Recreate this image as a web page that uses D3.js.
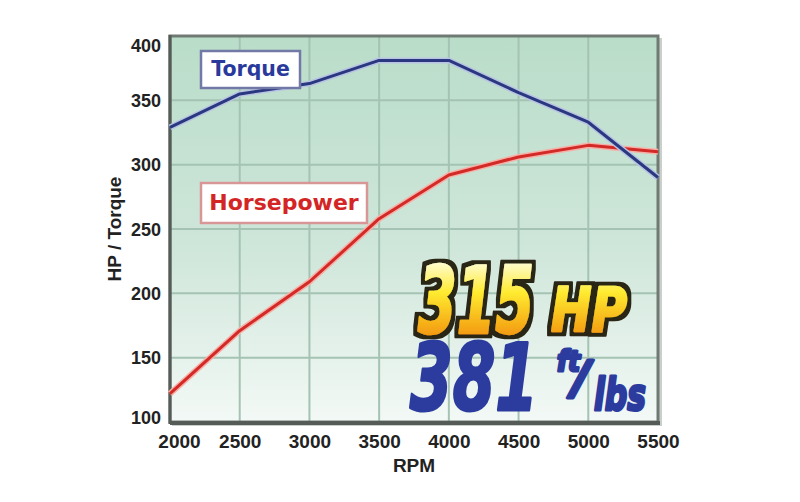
<!DOCTYPE html>
<html>
<head>
<meta charset="utf-8">
<script src="https://cdn.jsdelivr.net/npm/d3@7"></script>
<style>
  html, body { margin: 0; padding: 0; background: #fff; }
  #viz { width: 800px; height: 502px; }
</style>
</head>
<body>
<div id="viz"></div>
<script>
const rpm = [2000, 2500, 3000, 3500, 4000, 4500, 5000, 5500];
const torque = [329, 355, 363, 381, 381, 356, 333, 290];
const horsepower = [122, 171, 209, 258, 292, 306, 315, 310];
const xTicks = [2000, 2500, 3000, 3500, 4000, 4500, 5000, 5500];
const yTicks = [100, 150, 200, 250, 300, 350, 400];
const peakHp = "315";
const peakTorque = "381";

document.addEventListener("DOMContentLoaded", () => {
    const width = 800;
    const height = 502;
    const left = 170, right = 658, top = 36, bottom = 422;
    const labelFont = "'Liberation Sans', Arial, sans-serif";
    const bigFont = "'DejaVu Sans', sans-serif";

    const svg = d3.select('#viz').append('svg')
        .attr('width', width)
        .attr('height', height);

    const defs = svg.append('defs');

    const bg = defs.append('linearGradient')
        .attr('id', 'bg').attr('x1', 0).attr('y1', 0).attr('x2', 0).attr('y2', 1);
    bg.append('stop').attr('offset', '0%').attr('stop-color', '#b9ddc9');
    bg.append('stop').attr('offset', '55%').attr('stop-color', '#cfe6da');
    bg.append('stop').attr('offset', '100%').attr('stop-color', '#f3f9f6');

    const gold = defs.append('linearGradient')
        .attr('id', 'gold').attr('gradientUnits', 'userSpaceOnUse')
        .attr('x1', 0).attr('y1', 264).attr('x2', 0).attr('y2', 335);
    gold.append('stop').attr('offset', '0%').attr('stop-color', '#fffbc8');
    gold.append('stop').attr('offset', '40%').attr('stop-color', '#ffeb30');
    gold.append('stop').attr('offset', '100%').attr('stop-color', '#f39a10');

    // dark outline around the gold figures
    const outline = defs.append('filter')
        .attr('id', 'outline')
        .attr('x', '-10%').attr('y', '-10%')
        .attr('width', '120%').attr('height', '130%');
    outline.append('feMorphology')
        .attr('in', 'SourceAlpha').attr('operator', 'dilate').attr('radius', 3.5)
        .attr('result', 'thick');
    outline.append('feFlood').attr('flood-color', '#2b2618').attr('result', 'ink');
    outline.append('feComposite')
        .attr('in', 'ink').attr('in2', 'thick').attr('operator', 'in')
        .attr('result', 'edge');
    const merge = outline.append('feMerge');
    merge.append('feMergeNode').attr('in', 'edge');
    merge.append('feMergeNode').attr('in', 'SourceGraphic');

    const x = d3.scaleLinear().domain([2000, 5500]).range([left, right]);
    const y = d3.scaleLinear().domain([100, 400]).range([bottom, top]);

    // frame shadow + plot background
    svg.append('rect')
        .attr('x', left + 2).attr('y', top + 2)
        .attr('width', right - left + 2).attr('height', bottom - top + 2)
        .attr('fill', '#c9cfcb');
    svg.append('rect')
        .attr('x', left).attr('y', top)
        .attr('width', right - left).attr('height', bottom - top)
        .attr('fill', 'url(#bg)');

    // grid
    svg.append('g')
        .selectAll('line')
        .data(xTicks.slice(1, -1))
        .enter()
        .append('line')
        .attr('x1', d => x(d)).attr('x2', d => x(d))
        .attr('y1', top).attr('y2', bottom)
        .attr('stroke', '#a5c3b3')
        .attr('stroke-width', 2);

    svg.append('g')
        .selectAll('line')
        .data(yTicks.slice(1, -1))
        .enter()
        .append('line')
        .attr('x1', left).attr('x2', right)
        .attr('y1', d => y(d)).attr('y2', d => y(d))
        .attr('stroke', '#a5c3b3')
        .attr('stroke-width', 2);

    // frame
    svg.append('rect')
        .attr('x', left).attr('y', top)
        .attr('width', right - left).attr('height', bottom - top)
        .attr('fill', 'none')
        .attr('stroke', '#707a74')
        .attr('stroke-width', 3);
    svg.append('line')
        .attr('x1', left).attr('x2', right + 2)
        .attr('y1', bottom + 1).attr('y2', bottom + 1)
        .attr('stroke', '#555b57').attr('stroke-width', 4);
    svg.append('line')
        .attr('x1', left).attr('x2', left)
        .attr('y1', top - 1).attr('y2', bottom + 2)
        .attr('stroke', '#555b57').attr('stroke-width', 3);

    // lines
    const line = vals => d3.line()
        .x((d, i) => x(rpm[i]))
        .y(d => y(d))(vals);

    const series = [
        { values: horsepower, halo: '#f7b0a8', color: '#d22a26' },
        { values: torque, halo: '#b9c3e4', color: '#29387f' }
    ];
    series.forEach(s => {
        svg.append('path')
            .attr('d', line(s.values))
            .attr('fill', 'none')
            .attr('stroke', s.halo)
            .attr('stroke-width', 6)
            .attr('stroke-linejoin', 'round');
        svg.append('path')
            .attr('d', line(s.values))
            .attr('fill', 'none')
            .attr('stroke', s.color)
            .attr('stroke-width', 3)
            .attr('stroke-linejoin', 'round');
    });

    // axes
    const yAxis = svg.append('g')
        .attr('transform', `translate(${left},0)`)
        .call(d3.axisLeft(y).tickValues(yTicks).tickSize(0).tickPadding(9));
    yAxis.select('.domain').remove();
    yAxis.selectAll('text')
        .attr('font-family', labelFont)
        .attr('font-weight', 'bold')
        .attr('font-size', 18)
        .attr('fill', '#222')
        .attr('dy', d => d === 400 ? '0.85em' : (d === 100 ? '0.1em' : '0.34em'));

    const xAxis = svg.append('g')
        .attr('transform', `translate(0,${bottom})`)
        .call(d3.axisBottom(x).tickValues(xTicks).tickFormat(d3.format('d')).tickSize(0).tickPadding(13));
    xAxis.select('.domain').remove();
    xAxis.selectAll('text')
        .attr('font-family', labelFont)
        .attr('font-weight', 'bold')
        .attr('font-size', 19)
        .attr('fill', '#222')
        .attr('dx', d => d === 2000 ? 9 : 0);

    svg.append('text')
        .attr('x', (left + right) / 2).attr('y', 472)
        .attr('text-anchor', 'middle')
        .attr('font-family', labelFont)
        .attr('font-weight', 'bold')
        .attr('font-size', 19)
        .attr('fill', '#222')
        .text('RPM');

    svg.append('text')
        .attr('transform', `translate(121,${(top + bottom) / 2}) rotate(-90)`)
        .attr('text-anchor', 'middle')
        .attr('font-family', labelFont)
        .attr('font-weight', 'bold')
        .attr('font-size', 19)
        .attr('fill', '#222')
        .text('HP / Torque');

    // legend boxes
    const boxes = [
        { label: 'Torque', x: 201, y: 51, w: 99, h: 37, size: 20.5, color: '#2a3a9c', border: '#7279a6' },
        { label: 'Horsepower', x: 201, y: 183, w: 166, h: 40, size: 22, color: '#d42525', border: '#d99696' }
    ];
    boxes.forEach(b => {
        svg.append('rect')
            .attr('x', b.x).attr('y', b.y)
            .attr('width', b.w).attr('height', b.h)
            .attr('fill', '#fff')
            .attr('stroke', b.border)
            .attr('stroke-width', 2.5);
        svg.append('text')
            .attr('x', b.x + b.w / 2).attr('y', b.y + b.h / 2)
            .attr('dy', '0.33em')
            .attr('text-anchor', 'middle')
            .attr('font-family', "'DejaVu Sans', sans-serif")
            .attr('font-weight', 'bold')
            .attr('font-size', b.size)
            .attr('fill', b.color)
            .text(b.label);
    });

    // peak badge
    const parts = [
        { t: peakHp, x: 418, y: 333, size: 92, len: 116, gold: true },
        { t: 'HP', x: 551, y: 331, size: 60, len: 76, gold: true },
        { t: peakTorque, x: 410, y: 410, size: 92, len: 128, gold: false },
        { t: 'ft', x: 557, y: 371, size: 28, len: 23, gold: false },
        { t: '/', x: 572, y: 394, size: 46, len: 18, gold: false },
        { t: 'lbs', x: 594, y: 410, size: 45, len: 52, gold: false }
    ];

    svg.append('g')
        .selectAll('text')
        .data(parts)
        .enter()
        .append('text')
        .attr('x', d => d.x).attr('y', d => d.y)
        .attr('font-family', bigFont)
        .attr('font-weight', 'bold')
        .attr('font-style', 'oblique')
        .attr('font-size', d => d.size)
        .attr('textLength', d => d.len)
        .attr('lengthAdjust', 'spacingAndGlyphs')
        .attr('fill', d => d.gold ? 'url(#gold)' : '#2c3c9e')
        .attr('stroke', d => d.gold ? 'url(#gold)' : '#2c3c9e')
        .attr('stroke-width', d => d.gold ? 2.5 : 3)
        .attr('stroke-linejoin', 'round')
        .attr('filter', d => d.gold ? 'url(#outline)' : null)
        .text(d => d.t);
});
</script>
</body>
</html>
